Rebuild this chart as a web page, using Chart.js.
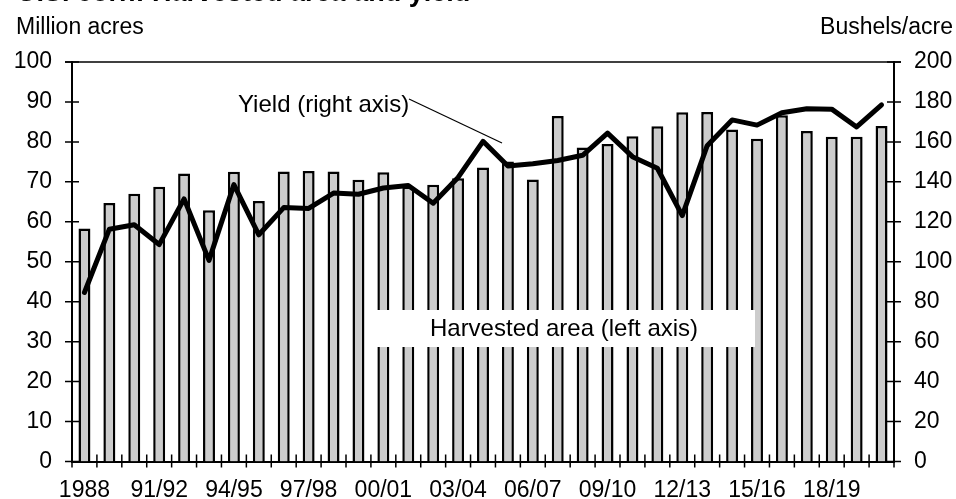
<!DOCTYPE html>
<html lang="en">
<head>
    <meta charset="UTF-8">
    <title>U.S. corn: Harvested area and yield</title>
    <script src="https://cdn.jsdelivr.net/npm/chart.js"></script>
    <style>
        body {
            margin: 0;
            background: #fff;
        }
        #wrap {
            width: 956px;
            height: 499px;
            position: relative;
        }
    </style>
</head>
<body>
    <div id="wrap"><canvas id="cornChart" width="956" height="499"></canvas></div>
    <script>
        // Marketing years, 1988 to 2020/21
        const years = ['1988', '89/90', '90/91', '91/92', '92/93', '93/94', '94/95', '95/96', '96/97',
            '97/98', '98/99', '99/00', '00/01', '01/02', '02/03', '03/04', '04/05', '05/06', '06/07',
            '07/08', '08/09', '09/10', '10/11', '11/12', '12/13', '13/14', '14/15', '15/16', '16/17',
            '17/18', '18/19', '19/20', '20/21'];

        // Harvested area, million acres (left axis)
        const harvestedArea = [58.3, 64.7, 67.0, 68.8, 72.1, 62.9, 72.5, 65.2, 72.6, 72.7, 72.6,
            70.5, 72.4, 68.8, 69.3, 70.9, 73.6, 75.1, 70.6, 86.5, 78.6, 79.5, 81.4, 83.9, 87.4,
            87.5, 83.1, 80.8, 86.7, 82.7, 81.3, 81.3, 84.0];

        // Yield, bushels per acre (right axis)
        const yieldPerAcre = [84.6, 116.3, 118.5, 108.6, 131.5, 100.7, 138.6, 113.5, 127.1, 126.7,
            134.4, 133.8, 136.9, 138.2, 129.3, 142.2, 160.3, 147.9, 149.1, 150.7, 153.3, 164.4,
            152.6, 146.8, 123.1, 158.1, 171.0, 168.4, 174.6, 176.6, 176.4, 167.5, 178.5];

        const leftTicks = [0, 10, 20, 30, 40, 50, 60, 70, 80, 90, 100];
        const rightTicks = [0, 20, 40, 60, 80, 100, 120, 140, 160, 180, 200];

        const FONT = '"Liberation Sans", Arial, sans-serif';

        // Ticks that cross the axes, frame top, titles and the two callouts
        const decorations = {
            id: 'decorations',
            afterDraw(chart) {
                const ctx = chart.ctx;
                const area = chart.chartArea;
                const yl = chart.scales.yLeft;
                const yr = chart.scales.yRight;
                const x = chart.scales.x;
                ctx.save();
                ctx.strokeStyle = '#000';
                ctx.lineWidth = 1.5;

                // top of frame
                ctx.beginPath();
                ctx.moveTo(area.left - 7, area.top);
                ctx.lineTo(area.right + 7, area.top);
                ctx.stroke();

                ctx.beginPath();
                leftTicks.forEach(v => {
                    const py = yl.getPixelForValue(v);
                    ctx.moveTo(area.left - 7, py);
                    ctx.lineTo(area.left + 7, py);
                });
                rightTicks.forEach(v => {
                    const py = yr.getPixelForValue(v);
                    ctx.moveTo(area.right - 7, py);
                    ctx.lineTo(area.right + 7, py);
                });
                const step = (x.right - x.left) / years.length;
                for (let i = 0; i <= years.length; i++) {
                    const px = x.left + i * step;
                    ctx.moveTo(px, area.bottom - 7);
                    ctx.lineTo(px, area.bottom + 6);
                }
                ctx.stroke();

                // title, cut off by the top edge
                ctx.fillStyle = '#000';
                ctx.font = 'bold 27px ' + FONT;
                ctx.textAlign = 'left';
                ctx.textBaseline = 'alphabetic';
                ctx.fillText('U.S. corn: Harvested area and yield', 17, 1);

                // axis units
                ctx.font = '23px ' + FONT;
                ctx.fillText('Million acres', 16, 34);
                ctx.textAlign = 'right';
                ctx.fillText('Bushels/acre', 953, 34);

                // yield callout
                ctx.font = '24px ' + FONT;
                ctx.textAlign = 'left';
                ctx.textBaseline = 'middle';
                ctx.fillText('Yield (right axis)', 238, 105);
                ctx.lineWidth = 1.2;
                ctx.beginPath();
                ctx.moveTo(409, 99);
                ctx.lineTo(502, 143);
                ctx.stroke();

                // harvested area callout on a white box
                ctx.fillStyle = '#fff';
                ctx.fillRect(376, 310, 379, 37);
                ctx.fillStyle = '#000';
                ctx.textAlign = 'center';
                ctx.fillText('Harvested area (left axis)', 564, 329);
                ctx.restore();
            }
        };

        const ctx = document.getElementById('cornChart').getContext('2d');
        new Chart(ctx, {
            data: {
                labels: years,
                datasets: [{
                    type: 'line',
                    label: 'Yield (right axis)',
                    data: yieldPerAcre,
                    yAxisID: 'yRight',
                    borderColor: '#000',
                    borderWidth: 5,
                    borderJoinStyle: 'round',
                    borderCapStyle: 'round',
                    pointRadius: 0,
                    tension: 0,
                    order: 0
                }, {
                    type: 'bar',
                    label: 'Harvested area (left axis)',
                    data: harvestedArea,
                    yAxisID: 'yLeft',
                    backgroundColor: '#cccccc',
                    borderColor: '#000',
                    borderWidth: 2.5,
                    barPercentage: 0.48,
                    categoryPercentage: 1,
                    order: 1
                }]
            },
            plugins: [decorations],
            options: {
                responsive: false,
                animation: false,
                layout: { padding: { top: 62, left: 0, right: 0, bottom: 0 } },
                plugins: {
                    legend: { display: false },
                    tooltip: { enabled: false }
                },
                scales: {
                    x: {
                        offset: true,
                        grid: { display: false, offset: true },
                        border: { display: true, color: '#000', width: 2 },
                        afterFit(scale) { scale.height = 37.5; },
                        ticks: {
                            autoSkip: false,
                            maxRotation: 0,
                            padding: 7,
                            color: '#000',
                            font: { family: FONT, size: 23 },
                            callback(value, index) {
                                return index % 3 === 0 ? years[index] : '';
                            }
                        }
                    },
                    yLeft: {
                        position: 'left',
                        min: 0,
                        max: 100,
                        grid: { display: false, drawTicks: false },
                        border: { display: true, color: '#000', width: 2 },
                        afterFit(scale) { scale.width = 72; },
                        ticks: {
                            stepSize: 10,
                            padding: 20,
                            color: '#000',
                            font: { family: FONT, size: 23 }
                        }
                    },
                    yRight: {
                        position: 'right',
                        min: 0,
                        max: 200,
                        grid: { display: false, drawTicks: false },
                        border: { display: true, color: '#000', width: 2 },
                        afterFit(scale) { scale.width = 62; },
                        ticks: {
                            stepSize: 20,
                            padding: 20,
                            color: '#000',
                            font: { family: FONT, size: 23 }
                        }
                    }
                }
            }
        });
    </script>
</body>
</html>
